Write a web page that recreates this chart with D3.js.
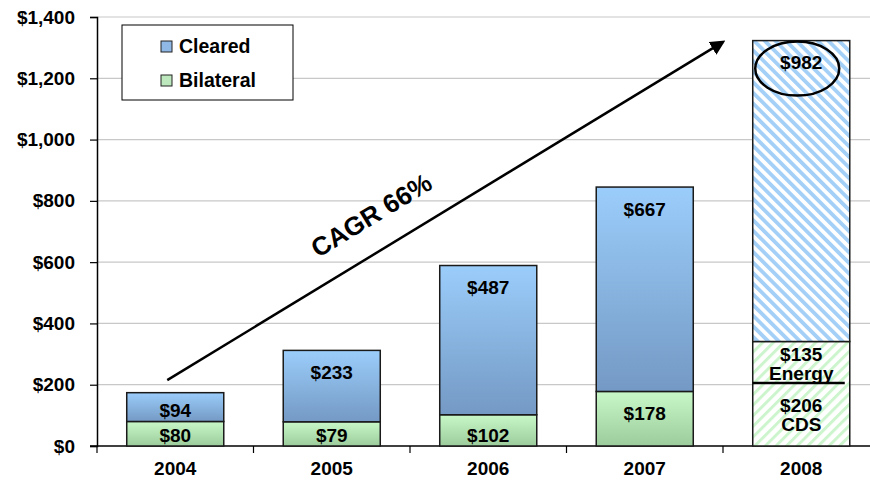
<!DOCTYPE html>
<html>
<head>
<meta charset="utf-8">
<script src="https://cdn.jsdelivr.net/npm/d3@7"></script>
<style>
  body { margin: 0; background: #fff; }
  text { font-family: "Liberation Sans", Arial, sans-serif; font-weight: bold; fill: #000; }
</style>
</head>
<body>
<div id="chart"></div>
<script>
var years = ['2004', '2005', '2006', '2007', '2008'];
var cleared = [94, 233, 487, 667, 982];
var bilateral = [80, 79, 102, 178, null];
// 2008 bilateral is split in two parts
var bilateral2008 = [{ name: 'CDS', value: 206 }, { name: 'Energy', value: 135 }];
var yTicks = [0, 200, 400, 600, 800, 1000, 1200, 1400];

var width = 870,
    height = 488,
    svg = d3.select('#chart').append('svg')
      .attr('width', width)
      .attr('height', height);

var defs = svg.append('defs');

function vGrad(id, top, bottom) {
  var g = defs.append('linearGradient').attr('id', id)
    .attr('x1', 0).attr('y1', 0).attr('x2', 0).attr('y2', 1);
  g.append('stop').attr('offset', '0%').attr('stop-color', top);
  g.append('stop').attr('offset', '100%').attr('stop-color', bottom);
}
vGrad('gBlue', '#9bcdfb', '#7499c4');
vGrad('gGreen', '#c8f8c8', '#9ccb9c');

function hatch(id, color, angle, size, stroke) {
  var p = defs.append('pattern').attr('id', id)
    .attr('patternUnits', 'userSpaceOnUse')
    .attr('width', size).attr('height', size)
    .attr('patternTransform', 'rotate(' + angle + ')');
  p.append('rect').attr('width', size).attr('height', size).attr('fill', '#fff');
  p.append('rect').attr('width', stroke).attr('height', size).attr('fill', color);
}
hatch('hBlue', '#a4d0f8', -45, 7.5, 3.8);
hatch('hGreen', '#cdf5cd', 45, 7.5, 3);

var x = d3.scaleBand()
  .domain(years)
  .range([97, 879.5])
  .paddingInner(0.38)
  .paddingOuter(0.19);

var y = d3.scaleLinear()
  .domain([0, 1400])
  .range([446, 17]);

var fs = '19px';

// gridlines
svg.append('g').selectAll('line')
  .data(yTicks.slice(1))
  .enter().append('line')
  .attr('x1', 97).attr('x2', width)
  .attr('y1', function(d) { return y(d); })
  .attr('y2', function(d) { return y(d); })
  .attr('stroke', '#c8c8c8')
  .attr('stroke-width', 1.2);

// y axis
var yAxis = svg.append('g')
  .attr('transform', 'translate(97,0)')
  .call(d3.axisLeft(y)
    .tickValues(yTicks)
    .tickSize(7)
    .tickPadding(15)
    .tickFormat(function(d) { return '$' + d3.format(',')(d); }));
yAxis.select('.domain').attr('stroke', '#000').attr('stroke-width', 1.5);
yAxis.selectAll('.tick line').attr('stroke', '#000').attr('stroke-width', 1.2);
yAxis.selectAll('.tick text')
  .style('font-size', fs)
  .style('font-family', '"Liberation Sans", Arial, sans-serif')
  .style('font-weight', 'bold');

// x axis
var step = x.step();
svg.append('line')
  .attr('x1', 90).attr('x2', width)
  .attr('y1', y(0)).attr('y2', y(0))
  .attr('stroke', '#000').attr('stroke-width', 1.5);
svg.append('g').selectAll('line')
  .data(d3.range(0, years.length + 1))
  .enter().append('line')
  .attr('x1', function(i) { return 97 + i * step; })
  .attr('x2', function(i) { return 97 + i * step; })
  .attr('y1', y(0)).attr('y2', y(0) + 7)
  .attr('stroke', '#000').attr('stroke-width', 1.2);
svg.append('g').selectAll('text')
  .data(years)
  .enter().append('text')
  .attr('x', function(d) { return x(d) + x.bandwidth() / 2; })
  .attr('y', 475)
  .attr('text-anchor', 'middle')
  .style('font-size', fs)
  .text(function(d) { return d; });

// bars
var bw = x.bandwidth();
var bars = svg.append('g');
var labels = svg.append('g');

function labelY(top, bottom) {
  return Math.min(top + 22, bottom - 11);
}

function addLabel(cx, cy, txt) {
  labels.append('text')
    .attr('x', cx).attr('y', cy)
    .attr('text-anchor', 'middle').attr('dy', '0.35em')
    .style('font-size', fs)
    .text(txt);
}

years.forEach(function(yr, i) {
  var bx = x(yr), cx = bx + bw / 2;
  var base = 0;
  if (bilateral[i] != null) {
    bars.append('rect')
      .attr('x', bx).attr('y', y(bilateral[i])).attr('width', bw)
      .attr('height', y(0) - y(bilateral[i]))
      .attr('fill', 'url(#gGreen)')
      .attr('stroke', '#1a1a1a').attr('stroke-width', 1.5);
    addLabel(cx, labelY(y(bilateral[i]), y(0)), '$' + bilateral[i]);
    base = bilateral[i];
    bars.append('rect')
      .attr('x', bx).attr('y', y(base + cleared[i])).attr('width', bw)
      .attr('height', y(base) - y(base + cleared[i]))
      .attr('fill', 'url(#gBlue)')
      .attr('stroke', '#1a1a1a').attr('stroke-width', 1.5);
    addLabel(cx, labelY(y(base + cleared[i]), y(base)), '$' + cleared[i]);
  } else {
    var cds = bilateral2008[0].value, energy = bilateral2008[1].value;
    var bil = cds + energy;
    bars.append('rect')
      .attr('x', bx).attr('y', y(bil)).attr('width', bw)
      .attr('height', y(0) - y(bil))
      .attr('fill', 'url(#hGreen)')
      .attr('stroke', '#1a1a1a').attr('stroke-width', 1.5);
    bars.append('rect')
      .attr('x', bx).attr('y', y(bil + cleared[i])).attr('width', bw)
      .attr('height', y(bil) - y(bil + cleared[i]))
      .attr('fill', 'url(#hBlue)')
      .attr('stroke', '#1a1a1a').attr('stroke-width', 1.5);
    bars.append('line')
      .attr('x1', bx).attr('x2', bx + bw - 5)
      .attr('y1', y(cds)).attr('y2', y(cds))
      .attr('stroke', '#000').attr('stroke-width', 2.5);
    // CDS
    var cdsMid = (y(0) + y(cds)) / 2;
    addLabel(cx, cdsMid - 9, '$' + cds);
    addLabel(cx, cdsMid + 10, bilateral2008[0].name);
    // Energy
    addLabel(cx, y(bil) + 13, '$' + energy);
    addLabel(cx, y(bil) + 32, bilateral2008[1].name);
    // cleared, circled
    var ly = labelY(y(bil + cleared[i]), y(bil));
    addLabel(cx, ly, '$' + cleared[i]);
    labels.append('ellipse')
      .attr('cx', cx - 4).attr('cy', ly + 6)
      .attr('rx', 42).attr('ry', 27)
      .attr('fill', 'none').attr('stroke', '#000').attr('stroke-width', 2.5);
  }
});

// CAGR arrow
defs.append('marker').attr('id', 'arrowHead')
  .attr('viewBox', '0 0 10 10').attr('refX', 8).attr('refY', 5)
  .attr('markerWidth', 6).attr('markerHeight', 6)
  .attr('markerUnits', 'strokeWidth')
  .attr('orient', 'auto')
  .append('path').attr('d', 'M0,0 L10,5 L0,10 Z').attr('fill', '#000');

var a0 = [x('2004') + bw / 2 - 8, y(215)],
    a1 = [x('2008') - 30, y(1318)];
svg.append('line')
  .attr('x1', a0[0]).attr('y1', a0[1])
  .attr('x2', a1[0]).attr('y2', a1[1])
  .attr('stroke', '#000').attr('stroke-width', 2.5)
  .attr('marker-end', 'url(#arrowHead)');

var ang = Math.atan2(a1[1] - a0[1], a1[0] - a0[0]) * 180 / Math.PI;
svg.append('text')
  .attr('transform', 'translate(376,223) rotate(' + ang + ')')
  .attr('text-anchor', 'middle')
  .style('font-size', '26px')
  .text('CAGR 66%');

// legend
var lg = svg.append('g');
lg.append('rect')
  .attr('x', 122).attr('y', 25).attr('width', 171).attr('height', 75)
  .attr('fill', '#fff').attr('stroke', '#000').attr('stroke-width', 1);
var legendItems = [
  { label: 'Cleared', fill: '#8fb8e6' },
  { label: 'Bilateral', fill: '#bde8bd' }
];
legendItems.forEach(function(d, i) {
  var ly = 46 + i * 34;
  lg.append('rect')
    .attr('x', 161).attr('y', ly - 5).attr('width', 11).attr('height', 11)
    .attr('fill', d.fill).attr('stroke', '#222').attr('stroke-width', 1);
  lg.append('text')
    .attr('x', 179).attr('y', ly).attr('dy', '0.35em')
    .style('font-size', '19.5px')
    .text(d.label);
});
</script>
</body>
</html>
